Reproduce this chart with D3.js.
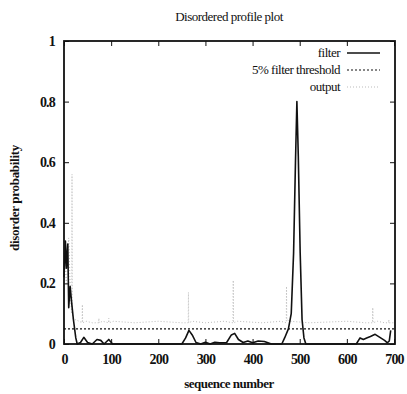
<!DOCTYPE html>
<html>
<head>
<meta charset="utf-8">
<script src="https://cdn.jsdelivr.net/npm/d3@7"></script>
<style>
  body { margin: 0; background: #fff; }
  text { font-family: "Liberation Serif", "DejaVu Serif", serif; fill: #111; }
</style>
</head>
<body>
<div id="viz"></div>
<script>
// values
var xTicks = [0, 100, 200, 300, 400, 500, 600, 700];
var yTicks = [0, 0.2, 0.4, 0.6, 0.8, 1];
var thresholdValue = 0.05;

var filterSeq = [0, 3, 5, 8, 10, 13, 16, 20, 25, 28, 35, 42, 50, 60, 70, 78, 85, 95, 103,
  250, 258, 265, 272, 280, 290, 300, 310, 320, 330, 345, 355, 362, 370, 380, 390, 400, 412, 425, 440,
  462, 468, 476, 482, 487, 491, 494, 497, 501, 505, 509, 513,
  620, 628, 635, 642, 650, 660, 670, 680, 686, 690, 693];
var filterVal = [0.22, 0.34, 0.25, 0.33, 0.12, 0.19, 0.14, 0.08, 0.02, 0, 0.005, 0.022, 0.005, 0, 0.015, 0.012, 0, 0.015, 0,
  0, 0.02, 0.045, 0.03, 0.005, 0, 0.006, 0, 0.006, 0.004, 0.005, 0.03, 0.035, 0.015, 0.005, 0.01, 0.004, 0.01, 0.008, 0,
  0, 0.02, 0.05, 0.1, 0.3, 0.6, 0.8, 0.62, 0.3, 0.08, 0.02, 0,
  0, 0.02, 0.015, 0.02, 0.025, 0.032, 0.022, 0.012, 0.004, 0.01, 0.045];

var outputSeq = [0, 5, 10, 14, 16.5, 17, 17.5, 20, 25, 32, 38.5, 39, 39.5, 47, 60, 73.5, 74, 74.5, 82, 94.5, 95, 95.5, 105, 150, 200,
  250, 263.5, 264, 264.5, 272, 300, 340, 358.5, 359, 359.5, 368, 420, 460, 471.5, 472, 472.5, 480, 520, 600, 640,
  654.5, 655, 655.5, 665, 680, 688.5, 689, 689.5, 700];
var outputVal = [0.3, 0.2, 0.35, 0.15, 0.1, 0.56, 0.1, 0.08, 0.08, 0.075, 0.07, 0.13, 0.07, 0.075, 0.07, 0.07, 0.085, 0.07, 0.075, 0.07, 0.085, 0.07, 0.075, 0.07, 0.075,
  0.07, 0.07, 0.17, 0.07, 0.075, 0.07, 0.075, 0.07, 0.21, 0.07, 0.075, 0.07, 0.075, 0.07, 0.19, 0.08, 0.075, 0.07, 0.075, 0.07,
  0.07, 0.12, 0.07, 0.075, 0.07, 0.07, 0.08, 0.07, 0.07];

var width = 407, height = 394,
    plotLeft = 64, plotRight = 395, plotTop = 41, plotBottom = 344;

var svg = d3.select("#viz").append("svg")
  .attr("width", width)
  .attr("height", height);

var x = d3.scaleLinear().domain([0, 700]).range([plotLeft, plotRight - 1]);
var y = d3.scaleLinear().domain([0, 1]).range([plotBottom, plotTop]);

// data lines first, then frame on top
var outputPts = d3.zip(outputSeq, outputVal);
var filterPts = d3.zip(filterSeq, filterVal);

var line = d3.line()
  .x(function(d) { return x(d[0]); })
  .y(function(d) { return y(d[1]); });

svg.append("path")
  .datum(outputPts)
  .attr("d", line)
  .attr("fill", "none")
  .attr("stroke", "#bbb")
  .attr("stroke-width", 1)
  .attr("stroke-dasharray", "1,2");

svg.append("line")
  .attr("x1", x(0)).attr("x2", plotRight)
  .attr("y1", y(thresholdValue)).attr("y2", y(thresholdValue))
  .attr("stroke", "#111")
  .attr("stroke-width", 1.2)
  .attr("stroke-dasharray", "2,2");

svg.append("path")
  .datum(filterPts)
  .attr("d", line)
  .attr("fill", "none")
  .attr("stroke", "#111")
  .attr("stroke-width", 1.6)
  .attr("stroke-linejoin", "round");

// frame
svg.append("rect")
  .attr("x", plotLeft).attr("y", plotTop)
  .attr("width", plotRight - plotLeft).attr("height", plotBottom - plotTop)
  .attr("fill", "none")
  .attr("stroke", "#111")
  .attr("stroke-width", 1.8);

// inward ticks, gnuplot style
var bx = d3.axisBottom(x).tickValues(xTicks).tickSize(-5).tickPadding(10).tickFormat(d3.format("d"));
var tx = d3.axisTop(x).tickValues(xTicks).tickSize(-5).tickFormat("");
var ly = d3.axisLeft(y).tickValues(yTicks).tickSize(-5).tickPadding(9).tickFormat(function(d) { return d3.format("")(d); });
var ry = d3.axisRight(y).tickValues(yTicks).tickSize(-5).tickFormat("");

function styleAxis(g) {
  g.select(".domain").remove();
  g.selectAll(".tick line").attr("stroke", "#111").attr("stroke-width", 1);
  g.selectAll("text")
    .style("font-family", "'Liberation Serif', serif")
    .style("font-size", "14px")
    .style("font-weight", "bold")
    .attr("letter-spacing", "-0.8")
    .attr("fill", "#111");
}

svg.append("g").attr("transform", "translate(0," + plotBottom + ")").call(bx).call(styleAxis);
svg.append("g").attr("transform", "translate(0," + plotTop + ")").call(tx).call(styleAxis);
svg.append("g").attr("transform", "translate(" + plotLeft + ",0)").call(ly).call(styleAxis);
svg.append("g").attr("transform", "translate(" + plotRight + ",0)").call(ry).call(styleAxis);

// titles
svg.append("text")
  .attr("x", 229).attr("y", 21)
  .attr("text-anchor", "middle")
  .style("font-size", "13px")
  .attr("letter-spacing", "-0.5")
  .text("Disordered profile plot");

svg.append("text")
  .attr("x", 229).attr("y", 388)
  .attr("text-anchor", "middle")
  .style("font-size", "13px")
  .style("font-weight", "bold")
  .attr("letter-spacing", "-0.5")
  .text("sequence number");

svg.append("text")
  .attr("transform", "translate(19,198) rotate(-90)")
  .attr("text-anchor", "middle")
  .style("font-size", "13px")
  .style("font-weight", "bold")
  .attr("letter-spacing", "-0.3")
  .text("disorder probability");

// legend
var legendNames = ["filter", "5% filter threshold", "output"];
var legendStroke = ["#111", "#111", "#bbb"];
var legendDash = [null, "2,2", "1,2"];
var legendWidth = [1.6, 1.2, 1];

var lg = svg.selectAll(".legend")
  .data(legendNames)
  .enter()
  .append("g")
    .attr("class", "legend")
    .attr("transform", function(d, i) { return "translate(0," + (53 + i * 17) + ")"; });

lg.append("text")
  .attr("x", 340).attr("y", 4)
  .attr("text-anchor", "end")
  .style("font-size", "13px")
  .attr("letter-spacing", "-0.5")
  .text(function(d) { return d; });

lg.append("line")
  .attr("x1", 347).attr("x2", 380)
  .attr("y1", 0).attr("y2", 0)
  .attr("stroke", function(d, i) { return legendStroke[i]; })
  .attr("stroke-width", function(d, i) { return legendWidth[i]; })
  .attr("stroke-dasharray", function(d, i) { return legendDash[i]; });
</script>
</body>
</html>
